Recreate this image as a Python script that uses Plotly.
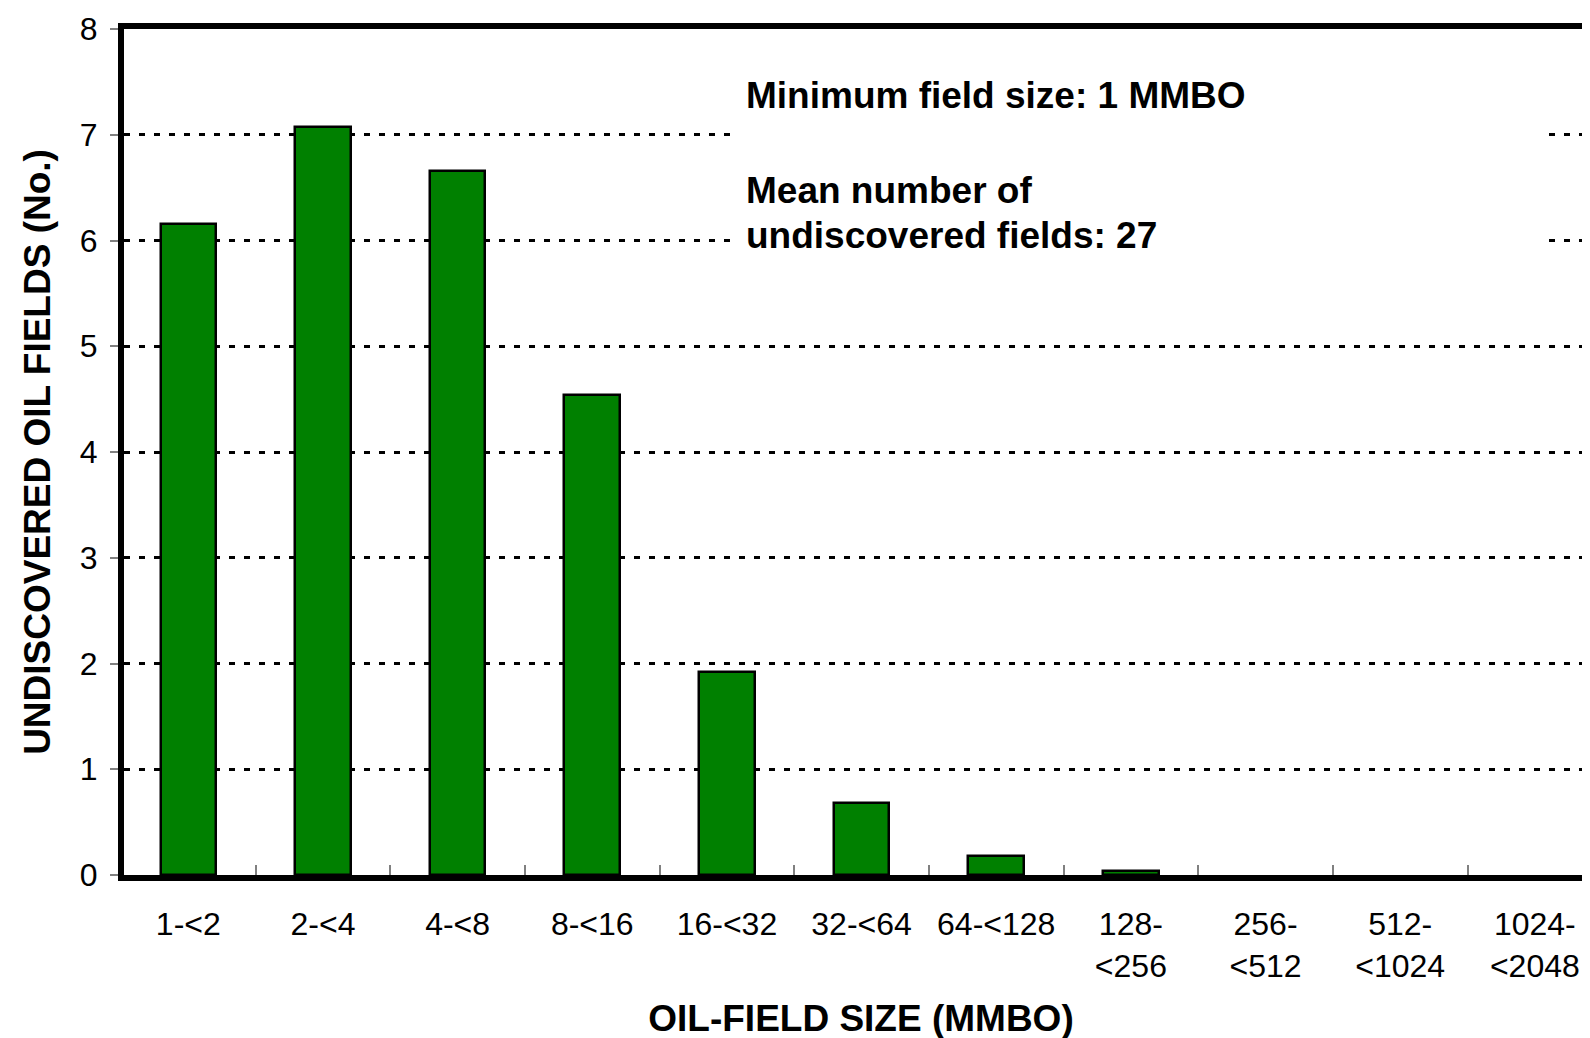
import plotly.graph_objects as go

categories = ["1-<2", "2-<4", "4-<8", "8-<16", "16-<32", "32-<64", "64-<128",
              "128-<br><256", "256-<br><512", "512-<br><1024", "1024-<br><2048"]
values = [6.16, 7.07, 6.66, 4.54, 1.92, 0.68, 0.18, 0.04, 0, 0, 0]
y_ticks = [0, 1, 2, 3, 4, 5, 6, 7, 8]

W, H = 1590, 1038
LW = 6                      # frame line width
X0_PX, CAT_PX = 113, 134.65     # x pixel of category boundary -0.5, px per category
Y0_PX, Y8_PX = 870, 18          # pixel of frame lines (bottom / top)

# plotly draws axis lines outside the plot area by LW/2
L = X0_PX + LW / 2
T = Y8_PX + LW / 2
BOT = Y0_PX - LW / 2
R = 0
plot_w = W - L - R
plot_h = BOT - T
x_range = [-0.5 + (LW / 2) / CAT_PX, -0.5 + (W - X0_PX) / CAT_PX]
y_range = [0, 8]

def xp(px):
    return (px - L) / plot_w

def yp(py):
    return (BOT - py) / plot_h

FONT = "Liberation Sans, Arial, sans-serif"
TICK_SIZE = 32
BOLD_SIZE = 37

fig = go.Figure()
fig.add_trace(go.Bar(
    x=list(range(len(categories))),
    y=values,
    width=0.413,
    marker=dict(color="#008000",
                line=dict(color="black", width=[2.5 if v > 0 else 0 for v in values])),
))

fig.update_layout(
    width=W, height=H,
    margin=dict(l=L, r=R, t=T, b=H - BOT, pad=0, autoexpand=False),
    paper_bgcolor="white", plot_bgcolor="white",
    showlegend=False,
    font=dict(family=FONT, color="black"),
    bargap=0,
)

fig.update_xaxes(
    type="linear",
    automargin=False,
    range=x_range,
    tickmode="array",
    tickvals=list(range(len(categories))),
    ticktext=categories,
    tickfont=dict(size=TICK_SIZE, family=FONT),
    ticks="",
    ticklabelstandoff=16,
    showgrid=False,
    zeroline=False,
    showline=True, linecolor="black", linewidth=LW, mirror=True,
    title=dict(text="<b>OIL-FIELD SIZE (MMBO)</b>", font=dict(size=BOLD_SIZE, family=FONT), standoff=24),
    minor=dict(tickmode="array", tickvals=[i + 0.5 for i in range(len(categories))],
               ticks="inside", ticklen=10, tickcolor="#808080", tickwidth=1.5, showgrid=False),
)

fig.update_yaxes(
    automargin=False,
    range=y_range,
    tickmode="array",
    tickvals=y_ticks,
    tickfont=dict(size=TICK_SIZE, family=FONT),
    ticks="outside", ticklen=8, tickcolor="#808080", tickwidth=1.5,
    ticklabelstandoff=6,
    showgrid=True, gridcolor="black", gridwidth=3, griddash="6px,9px",
    zeroline=False,
    showline=True, linecolor="black", linewidth=LW,
    title=dict(text="<b>UNDISCOVERED OIL FIELDS (No.)</b>", font=dict(size=BOLD_SIZE, family=FONT), standoff=20),
)

# white box behind the annotation text (interrupts gridlines)
fig.add_shape(type="rect", xref="paper", yref="paper",
              x0=xp(731), x1=xp(1540), y0=yp(262), y1=yp(55),
              fillcolor="white", line=dict(width=0), layer="above")

notes = [("Minimum field size: 1 MMBO", 87.3),
         ("Mean number of", 182),
         ("undiscovered fields: 27", 228)]
for txt, ypx in notes:
    fig.add_annotation(xref="paper", yref="paper", x=xp(736), y=yp(ypx),
                       xanchor="left", yanchor="middle", align="left", showarrow=False,
                       text=f"<b>{txt}</b>",
                       font=dict(size=BOLD_SIZE, family=FONT, color="black"))

fig.write_html("out.html")
